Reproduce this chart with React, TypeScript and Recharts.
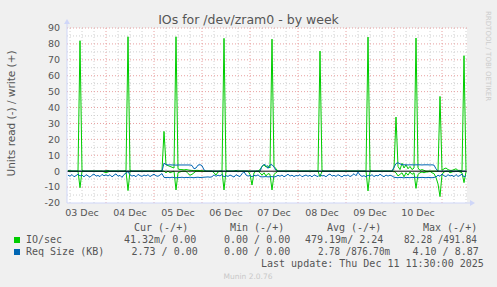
import React from 'react'
import { LineChart, Line, XAxis, YAxis, ReferenceLine, CartesianGrid } from 'recharts'

// one sample per hour, first sample at Dec 3 05:00 (hours counted from Dec 3 00:00)
const startHour = 5

const dayLabels = ['03 Dec', '04 Dec', '05 Dec', '06 Dec', '07 Dec', '08 Dec', '09 Dec', '10 Dec']
const dayLabelHours = [12, 36, 60, 84, 108, 132, 156, 180]
const yTicks = [-20, -10, 0, 10, 20, 30, 40, 50, 60, 70, 80, 90]
const yMinorTicks = [-15, -5, 5, 15, 25, 35, 45, 55, 65, 75, 85]

// IO/sec, read (drawn negative)
const ioRead = [
  0, 0, 0, 0, 0, 0, -10.4, 0, 0, 0, 0, 0, 0, 0, 0, 0, 0, 0, -0.5, -1.0,
  -0.5, 0, 0, 0, 0, 0, 0, 0, 0, 0, -12.2, 0, 0, 0, 0, 0, 0, 0, 0, 0,
  0, 0, 0, 0, 0, 0, 0, 0, 0, -1.0, 0, -1.0, -0.5, 0, -11.8, -1.0, -0.5, 0, 0, 0,
  -1.5, -2.5, -2.0, -1.0, 0, 0, 0, 0, 0, 0, 0, 0, 0, -1.0, -2.4, -0.5, 0, 0, -11.8, 0,
  0, 0, 0, 0, 0, 0, 0, 0, 0, 0, 0, -2.0, -8.7, -1.0, 0, 0, -1.0, -2.5, -1.0, -3.0,
  -1.5, -2.0, -11.8, -2.0, -1.0, 0, 0, 0, 0, 0, 0, 0, 0, 0, 0, 0, 0, 0, 0, 0,
  0, 0, 0, 0, 0, 0, -3.5, 0, 0, 0, 0, 0, 0, 0, 0, 0, 0, 0, 0, 0,
  0, 0, 0, 0, 0, 0, 0, 0, 0, 0, -12.4, 0, 0, 0, 0, 0, 0, 0, 0, 0,
  0, 0, 0, 0, -1.0, -3.0, -2.0, -1.0, -3.5, -1.0, -2.5, -0.5, -2.0, -1.0, -10.8, -2.0, -1.0, -0.5, -1.0, -0.5,
  -0.5, 0, -1.0, -1.5, -4.0, -8.0, -16.0, -2.0, -0.5, 0, 0, -1.0, -0.5, 0, 0, 0, -0.5, -1.0, -7.2, -0.5,
]

// IO/sec, write (positive)
const ioWrite = [
  0.5, 0.3, 0, 0, 0, 0, 82, 0.5, 0, 0, 0, 0, 0, 0, 0, 0, 0, 0, 0, 0.3,
  0.5, 0, 0, 0, 0, 0, 0, 0, 0, 0.5, 84.5, 0.5, 0, 0, 0, 0, 0, 0, 0, 0,
  0, 0, 0, 0, 0, 0, 0, 0.5, 25, 4.0, 3.5, 3.0, 2.5, 2.0, 84.5, 1.5, 1.0, 1.0, 0.8, 1.0,
  0.8, 0.5, 0.5, 0.3, 0.5, 0.5, 0.3, 0.3, 0, 0, 0, 0, 0, 0, 0, 0, 0, 0, 83.5, 0.5,
  0, 0, 0, 0, 0.5, 0, 0, 0, 0, 0, 0, 0, 0, 0, 0, 0, 1.0, 3.0, 4.0, 2.5,
  3.5, 2.0, 83, 3.0, 1.5, 0, 0, 0, 0, 0, 0, 0, 0, 0, 0, 0, 0, 0, 0, 0,
  0, 0, 0, 0, 0, 0, 75.5, 0.5, 0, 0, 0, 0, 0, 0, 0, 0, 0, 0, 0, 0,
  0, 0, 0, 0, 0, 0, 0, 0, 0, 0, 84.3, 0.5, 0, 0, 0, 0, 0, 0, 0, 0,
  0, 0, 0, 2.0, 34, 3.0, 1.0, 5.0, 2.0, 4.0, 1.5, 3.0, 1.0, 2.0, 83.7, 2.0, 0.5, 1.0, 0.5, 0,
  0, 0, 0, 0, 0, 0, 47, 0.5, 1.5, 2.0, 1.0, 0.5, 0.5, 1.0, 1.5, 0.5, 0.5, 0.3, 72.6, 0.5,
]

// Req Size (KB), read (drawn negative)
const reqRead = [
  -2.5, -3.2, -2.1, -3.5, -2.8, -1.9, -3.0, -2.4, -3.6, -2.2, -2.9, -3.8, -2.5, -1.8, -3.1, -2.7, -3.4, -2.0, -2.9, -2.3,
  -3.0, -2.2, -3.6, -2.5, -1.7, -3.2, -2.6, -3.9, -2.1, -1.2, -0.2, -2.3, -3.1, -2.6, -3.5, -2.0, -2.8, -3.3, -2.4, -3.0,
  -2.2, -3.4, -2.6, -1.9, -2.9, -3.2, -2.4, -1.5, -3.9, -4.0, -3.9, -4.1, -3.8, -4.0, -4.2, -3.9, -4.0, -3.8, -4.1, -3.9,
  -4.0, -3.8, -4.0, -4.1, -3.9, -3.8, -4.0, -3.9, -3.8, -3.7, -3.6, -3.8, -3.5, -2.3, -3.2, -2.5, -3.0, -2.1, -3.6, -2.8,
  -3.3, -2.4, -3.0, -3.7, -2.2, -2.9, -3.4, -1.6, -0.3, -2.4, -3.1, -2.7, -3.5, -2.6, -3.0, -2.3, -3.4, -3.6, -3.5, -3.4,
  -3.6, -3.5, -3.4, -3.7, -3.3, -2.6, -3.2, -2.4, -3.5, -2.8, -1.9, -3.1, -2.5, -3.4, -2.7, -3.0, -2.2, -3.5, -2.9, -2.4,
  -3.2, -2.6, -3.6, -2.3, -2.9, -3.4, -2.1, -3.0, -2.7, -3.5, -2.4, -1.8, -3.1, -2.6, -3.3, -2.2, -2.9, -3.6, -2.5, -3.0,
  -2.3, -3.4, -2.7, -1.6, -2.9, -0.6, -2.4, -3.3, -2.8, -3.6, -2.5, -3.1, -2.2, -3.4, -2.6, -3.0, -1.9, -2.8, -3.5, -2.4,
  -3.1, -2.5, -3.0, -3.8, -4.0, -4.1, -3.9, -4.0, -4.2, -3.9, -4.0, -4.1, -3.9, -4.0, -3.8, -4.1, -4.0, -3.9, -4.0, -4.1,
  -3.9, -4.0, -4.1, -3.9, -3.6, -2.5, -3.2, -1.8, -2.9, -3.4, -2.2, -3.0, -2.6, -3.5, -2.1, -3.3, -2.7, -1.9, -3.6, -2.8,
]

// Req Size (KB), write (positive)
const reqWrite = [
  0, 0, 0, 0, 0, 0, 0, 0, 0, 0, 0, 0, 0, 0, 0, 0, 0, 0, 0, 0,
  0, 0, 0, 0, 0, 0, 0, 0, 0, 0, 0, 0, 0, 0, 0, 0, 0, 0, 0, 0,
  0, 0, 0, 0, 0, 0, 0, 0, 5.0, 4.2, 3.9, 4.0, 3.9, 3.9, 3.8, 3.9, 3.9, 3.9, 3.9, 3.9,
  3.9, 3.9, 3.6, 1.5, 2.0, 3.8, 4.1, 3.5, 0.8, 0, 0, 0, 0, 0, 0, 0, 0, 0, 0, 0,
  0, 0, 0, 0, 0, 0, 0, 0, 0, 0, 0, 0, 0, 0, 0, 0, 0, 3.0, 4.3, 3.6,
  1.8, 3.9, 4.1, 2.6, 0.4, 0, 0, 0, 0, 0, 0, 0, 0, 0, 0, 0, 0, 0, 0, 0,
  0, 0, 0, 0, 0, 0, 0, 0, 0, 0, 0, 0, 0, 0, 0, 0, 0, 0, 0, 0,
  0, 0, 0, 0, 0, 0, 0, 0, 0, 0, 0, 0, 0, 0, 0, 0, 0, 0, 0, 0,
  0, 0, 0, 2.5, 4.8, 5.3, 4.6, 4.1, 4.0, 4.0, 3.9, 4.0, 4.0, 3.9, 4.0, 4.0, 4.0, 3.9, 4.0, 4.0,
  4.0, 3.9, 4.0, 3.8, 1.5, 0, 0, 0, 0, 0, 0, 0, 0, 0, 0, 0, 0, 0, 0, 0,
]

const legendRows = [
  { name: 'IO/sec', color: '#00cc00', cur: '41.32m/ 0.00', min: '0.00 / 0.00', avg: '479.19m/ 2.24', max: '82.28 /491.84' },
  { name: 'Req Size (KB)', color: '#0066b3', cur: '2.73 / 0.00', min: '0.00 / 0.00', avg: '2.78 /876.70m', max: '4.10 / 8.87' },
]

const data = ioRead.map((v, i) => ({
  t: startHour + i,
  ioRead: v,
  ioWrite: ioWrite[i],
  reqRead: reqRead[i],
  reqWrite: reqWrite[i],
}))

const gridHours: number[] = []
for (let h = 6; h <= 204; h += 6) gridHours.push(h)

const sans = 'DejaVu Sans'
const mono = 'DejaVu Sans Mono'
const textColor = '#555'
const axisColor = '#cfd6f8'

export default function App() {
  const r0 = legendRows[0]
  const r1 = legendRows[1]
  return (
    <div style={{ position: 'absolute', left: 0, top: 0, width: 497, height: 287, background: '#f0f0f0' }}>
      <LineChart
        width={497}
        height={287}
        data={data}
        margin={{ top: 28, right: 30, bottom: 0, left: 0 }}
        style={{ position: 'absolute', left: 0, top: 0 }}
      >
        <CartesianGrid horizontal={false} vertical={false} fill="#ffffff" />
        {gridHours.map((h) => (
          <ReferenceLine
            key={'x' + h}
            x={h}
            stroke={h % 24 === 0 ? '#e8a0a0' : '#d0d0d0'}
            strokeDasharray="1 2"
          />
        ))}
        {yMinorTicks.map((v) => (
          <ReferenceLine key={'ym' + v} y={v} stroke="#d0d0d0" strokeDasharray="1 2" />
        ))}
        {yTicks
          .filter((v) => v !== 0 && v !== -20)
          .map((v) => (
            <ReferenceLine key={'y' + v} y={v} stroke="#e8a0a0" strokeDasharray="1 2" />
          ))}
        <XAxis
          dataKey="t"
          type="number"
          domain={[4.5, 204.5]}
          ticks={dayLabelHours}
          interval={0}
          tickFormatter={(v: number) => dayLabels[dayLabelHours.indexOf(v)]}
          height={84}
          tickLine={false}
          tickSize={0}
          tickMargin={6}
          axisLine={{ stroke: axisColor }}
          tick={{ fontSize: 9.5, fill: textColor, fontFamily: sans }}
        />
        <YAxis
          type="number"
          domain={[-20, 90]}
          ticks={yTicks}
          interval={0}
          width={67}
          tickLine={false}
          tickSize={0}
          tickMargin={7}
          axisLine={{ stroke: axisColor }}
          tick={{ fontSize: 9.5, fill: textColor, fontFamily: sans }}
        />
        <Line dataKey="ioRead" type="linear" stroke="#00cc00" strokeWidth={1} dot={false} isAnimationActive={false} />
        <Line dataKey="ioWrite" type="linear" stroke="#00cc00" strokeWidth={1} dot={false} isAnimationActive={false} />
        <Line dataKey="reqRead" type="linear" stroke="#0066b3" strokeWidth={1} dot={false} isAnimationActive={false} />
        <Line dataKey="reqWrite" type="linear" stroke="#0066b3" strokeWidth={1} dot={false} isAnimationActive={false} />
        <ReferenceLine y={0} stroke="#000000" strokeWidth={1} />
      </LineChart>

      <svg
        width={497}
        height={287}
        style={{ position: 'absolute', left: 0, top: 0, pointerEvents: 'none' }}
      >
        {/* axis arrows */}
        <line x1={67} y1={28} x2={67} y2={22} stroke={axisColor} />
        <polygon points="64,24 70,24 67,19" fill={axisColor} />
        <line x1={467} y1={203} x2={472} y2={203} stroke={axisColor} />
        <polygon points="470,200 470,206 475,203" fill={axisColor} />

        <text x={248.5} y={23.5} textAnchor="middle" fontFamily={sans} fontSize={12.5} fill={textColor}>
          IOs for /dev/zram0 - by week
        </text>
        <text
          transform="translate(15,113.5) rotate(-90)"
          textAnchor="middle"
          fontFamily={sans}
          fontSize={10.5}
          fill={textColor}
        >
          Units read (-) / write (+)
        </text>
        <text transform="translate(486,11) rotate(90)" fontFamily={sans} fontSize={7} fill="#cccccc">
          RRDTOOL / TOBI OETIKER
        </text>

        <g fontFamily={mono} fontSize={10} fill={textColor}>
          <text x={134} y={231}>Cur (-/+)</text>
          <text x={230} y={231}>Min (-/+)</text>
          <text x={327} y={231}>Avg (-/+)</text>
          <text x={423} y={231}>Max (-/+)</text>

          <rect x={14} y={237} width={6} height={6} fill={r0.color} />
          <text x={26} y={243}>{r0.name}</text>
          <text x={124} y={243}>{r0.cur}</text>
          <text x={224} y={243}>{r0.min}</text>
          <text x={305} y={243}>{r0.avg}</text>
          {/* rrdtool squeezes the write value into the read value's slash */}
          <text x={404} y={243} textLength={73} lengthAdjust="spacingAndGlyphs">{r0.max}</text>

          <rect x={14} y={249} width={6} height={6} fill={r1.color} />
          <text x={26} y={255}>{r1.name}</text>
          <text x={131.5} y={255}>{r1.cur}</text>
          <text x={224} y={255}>{r1.min}</text>
          <text x={318} y={255} textLength={72} lengthAdjust="spacingAndGlyphs">{r1.avg}</text>
          <text x={412.5} y={255}>{r1.max}</text>

          <text x={261} y={267}>Last update: Thu Dec 11 11:30:00 2025</text>
        </g>
        <text x={248} y={279} textAnchor="middle" fontFamily={sans} fontSize={7.5} fill="#c8c8c8">
          Munin 2.0.76
        </text>
      </svg>
    </div>
  )
}
